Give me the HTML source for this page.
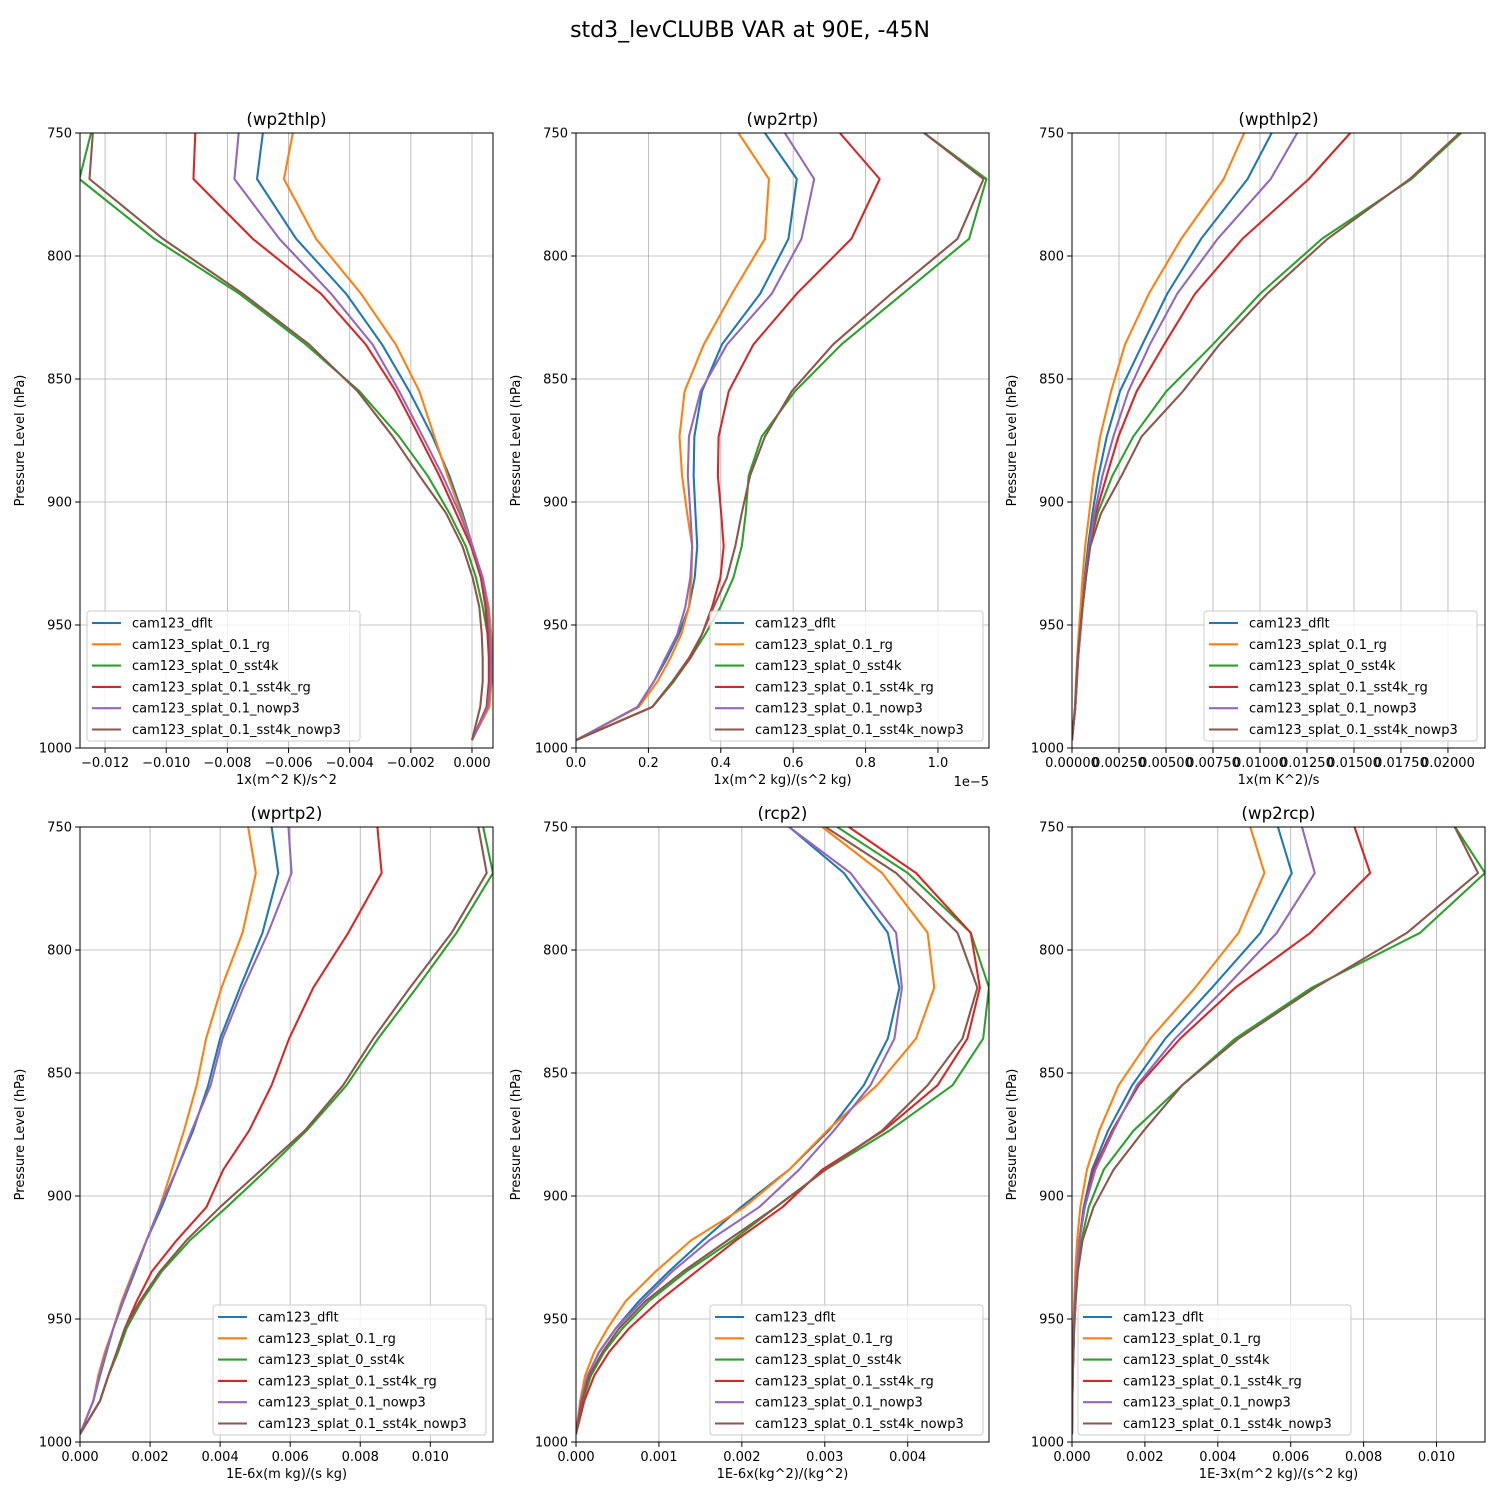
<!DOCTYPE html>
<html><head><meta charset="utf-8"><style>
html,body{margin:0;padding:0;background:#fff;}
svg text{font-family:"DejaVu Sans","Liberation Sans",sans-serif;}
</style></head><body>
<svg id="fig" width="1500" height="1500" viewBox="0 0 1500 1500" xmlns="http://www.w3.org/2000/svg">
<rect width="1500" height="1500" fill="#fff"/>
<text x="750" y="37" font-size="22" text-anchor="middle">std3_levCLUBB VAR at 90E, -45N</text>
</svg>
<script>
const levels = [750, 768.7, 793, 815.3, 836, 855, 873.4, 889.3, 904.5, 918, 930.7, 942.7, 953.8, 963.4, 973, 983.3, 996.8];
const seriesNames = ["cam123_dflt","cam123_splat_0.1_rg","cam123_splat_0_sst4k","cam123_splat_0.1_sst4k_rg","cam123_splat_0.1_nowp3","cam123_splat_0.1_sst4k_nowp3"];
const yTicks = [750, 800, 850, 900, 950, 1000];

const wp2thlp_dflt = [-0.00684,-0.00703,-0.00575,-0.00412,-0.00294,-0.00205,-0.00129,-0.00074,-0.00031,0.00002,0.00029,0.00048,0.00057,0.00060,0.00059,0.00051,0];
const wp2thlp_rg = [-0.00586,-0.00615,-0.00510,-0.00363,-0.00249,-0.00172,-0.00123,-0.00080,-0.00036,0.00002,0.00035,0.00055,0.00063,0.00065,0.00064,0.00057,0];
const wp2thlp_sst4k = [-0.01246,-0.01284,-0.01039,-0.00761,-0.00543,-0.00368,-0.00238,-0.00145,-0.00074,-0.00020,0.00013,0.00035,0.00051,0.00057,0.00057,0.00048,0];
const wp2thlp_sst4k_rg = [-0.00905,-0.00911,-0.00717,-0.00494,-0.00347,-0.00249,-0.00172,-0.00107,-0.00052,-0.00003,0.00029,0.00044,0.00051,0.00055,0.00055,0.00048,0];
const wp2thlp_nowp3 = [-0.00763,-0.00777,-0.00630,-0.00461,-0.00325,-0.00238,-0.00161,-0.00096,-0.00041,0.00002,0.00035,0.00051,0.00059,0.00062,0.00061,0.00051,0];
const wp2thlp_sst4k_nowp3 = [-0.01240,-0.01251,-0.01011,-0.00750,-0.00532,-0.00374,-0.00259,-0.00172,-0.00085,-0.00031,0.00002,0.00024,0.00032,0.00035,0.00035,0.00027,0];
const wp2thlp_ticks = [-0.012,-0.010,-0.008,-0.006,-0.004,-0.002,0.000];

const wp2rtp_dflt = [.522e-5,.610e-5,.587e-5,.509e-5,.403e-5,.348e-5,.327e-5,.325e-5,.330e-5,.335e-5,.328e-5,.312e-5,.284e-5,.252e-5,.215e-5,.170e-5,0];
const wp2rtp_rg = [.449e-5,.533e-5,.522e-5,.431e-5,.353e-5,.300e-5,.286e-5,.293e-5,.307e-5,.321e-5,.319e-5,.312e-5,.291e-5,.261e-5,.225e-5,.174e-5,0];
const wp2rtp_sst4k = [.962e-5,1.134e-5,1.086e-5,.903e-5,.733e-5,.605e-5,.513e-5,.477e-5,.469e-5,.458e-5,.435e-5,.399e-5,.357e-5,.316e-5,.270e-5,.211e-5,0];
const wp2rtp_sst4k_rg = [.729e-5,.839e-5,.761e-5,.610e-5,.490e-5,.422e-5,.394e-5,.392e-5,.401e-5,.408e-5,.399e-5,.376e-5,.348e-5,.316e-5,.266e-5,.211e-5,0];
const wp2rtp_nowp3 = [.577e-5,.658e-5,.623e-5,.541e-5,.417e-5,.344e-5,.312e-5,.309e-5,.316e-5,.321e-5,.316e-5,.302e-5,.280e-5,.247e-5,.215e-5,.170e-5,0];
const wp2rtp_sst4k_nowp3 = [.962e-5,1.126e-5,1.054e-5,.871e-5,.710e-5,.596e-5,.522e-5,.481e-5,.458e-5,.440e-5,.417e-5,.380e-5,.348e-5,.312e-5,.266e-5,.211e-5,0];
const wp2rtp_ticks = [0,0.2e-5,0.4e-5,0.6e-5,0.8e-5,1.0e-5];

const wpthlp2_dflt = [.01062,.00934,.00687,.00507,.00374,.00255,.00185,.00141,.00109,.00085,.00067,.00053,.00042,.00032,.00025,.00018,0];
const wpthlp2_rg = [.00916,.00807,.00581,.00409,.00282,.00208,.00150,.00115,.00092,.00070,.00056,.00046,.00035,.00028,.00021,.00016,0];
const wpthlp2_sst4k = [.02070,.01806,.01330,.01001,.00749,.00502,.00326,.00215,.00137,.00092,.00074,.00056,.00042,.00032,.00025,.00018,0];
const wpthlp2_sst4k_rg = [.01480,.01260,.00907,.00655,.00490,.00344,.00247,.00185,.00127,.00097,.00074,.00056,.00044,.00033,.00026,.00018,0];
const wpthlp2_nowp3 = [.01198,.01057,.00775,.00560,.00414,.00300,.00220,.00162,.00120,.00092,.00070,.00056,.00044,.00033,.00026,.00018,0];
const wpthlp2_sst4k_nowp3 = [.02061,.01797,.01360,.01039,.00784,.00590,.00370,.00264,.00155,.00097,.00074,.00056,.00041,.00030,.00023,.00016,0];
const wpthlp2_ticks = [0,0.0025,0.005,0.0075,0.01,0.0125,0.015,0.0175,0.02];

const wprtp2_dflt = [.00547,.00566,.00521,.00457,.00400,.00366,.00323,.00276,.00233,.00190,.00157,.00124,.00095,.00076,.00057,.00038,0];
const wprtp2_rg = [.00480,.00502,.00464,.00404,.00360,.00333,.00297,.00262,.00228,.00190,.00152,.00119,.00095,.00071,.00052,.00038,0];
const wprtp2_sst4k = [.01151,.01179,.01075,.00961,.00851,.00761,.00647,.00533,.00419,.00314,.00233,.00176,.00133,.00109,.00081,.00057,0];
const wprtp2_sst4k_rg = [.00849,.00861,.00766,.00666,.00597,.00547,.00483,.00409,.00361,.00276,.00205,.00162,.00128,.00105,.00081,.00057,0];
const wprtp2_nowp3 = [.00595,.00604,.00537,.00466,.00407,.00373,.00319,.00276,.00228,.00190,.00154,.00122,.00095,.00074,.00055,.00038,0];
const wprtp2_sst4k_nowp3 = [.01137,.01161,.01061,.00942,.00837,.00751,.00642,.00518,.00400,.00304,.00228,.00171,.00128,.00105,.00081,.00057,0];
const wprtp2_ticks = [0,0.002,0.004,0.006,0.008,0.010];

const rcp2_dflt = [.00257,.00323,.00376,.00390,.00376,.00347,.00305,.00257,.00199,.00153,.00112,.00076,.00048,.00028,.00014,.00006,0];
const rcp2_rg = [.00297,.00369,.00424,.00432,.00410,.00363,.00303,.00257,.00203,.00139,.00096,.00060,.00038,.00022,.00011,.00005,0];
const rcp2_sst4k = [.00315,.00400,.00476,.00498,.00491,.00454,.00378,.00301,.00241,.00189,.00133,.00088,.00056,.00034,.00018,.00008,0];
const rcp2_sst4k_rg = [.00329,.00410,.00476,.00487,.00472,.00436,.00371,.00297,.00249,.00193,.00145,.00100,.00064,.00040,.00022,.00010,0];
const rcp2_nowp3 = [.00257,.00331,.00386,.00393,.00384,.00355,.00311,.00269,.00221,.00161,.00116,.00080,.00048,.00028,.00014,.00006,0];
const rcp2_sst4k_nowp3 = [.00301,.00386,.00460,.00484,.00466,.00424,.00369,.00301,.00241,.00183,.00129,.00084,.00052,.00032,.00016,.00007,0];
const rcp2_ticks = [0,0.001,0.002,0.003,0.004];

const wp2rcp_dflt = [.00565,.00603,.00517,.00384,.00256,.00165,.00099,.00055,.00032,.00020,.00013,.00008,.00005,.00004,.00002,.00001,0];
const wp2rcp_rg = [.00489,.00528,.00457,.00338,.00215,.00128,.00075,.00041,.00023,.00014,.00009,.00006,.00004,.00003,.00002,.00001,0];
const wp2rcp_sst4k = [.01051,.01133,.00955,.00658,.00448,.00302,.00169,.00087,.00046,.00026,.00015,.00010,.00006,.00004,.00002,.00001,0];
const wp2rcp_sst4k_rg = [.00775,.00818,.00654,.00448,.00297,.00183,.00110,.00059,.00035,.00020,.00013,.00008,.00005,.00004,.00002,.00001,0];
const wp2rcp_nowp3 = [.00631,.00666,.00562,.00421,.00283,.00178,.00114,.00064,.00035,.00020,.00013,.00008,.00005,.00004,.00002,.00001,0];
const wp2rcp_sst4k_nowp3 = [.01050,.01114,.00919,.00667,.00457,.00302,.00197,.00114,.00059,.00029,.00016,.00010,.00006,.00004,.00002,.00001,0];
const wp2rcp_ticks = [0,0.002,0.004,0.006,0.008,0.010];

const colors = ["#1f77b4","#ff7f0e","#2ca02c","#d62728","#9467bd","#8c564b"];
const NS = "http://www.w3.org/2000/svg";
const svg = document.getElementById("fig");
function mk(tag, attrs, parent){ const e=document.createElementNS(NS,tag); for(const k in attrs) e.setAttribute(k,attrs[k]); (parent||svg).appendChild(e); return e; }

const panels = [
 {key:"wp2thlp", title:"(wp2thlp)", xlabel:"1x(m^2 K)/s^2", x0:80, y0:133, xmin:-0.01282, xmax:0.000687, ticks:wp2thlp_ticks, dec:3, series:[wp2thlp_dflt,wp2thlp_rg,wp2thlp_sst4k,wp2thlp_sst4k_rg,wp2thlp_nowp3,wp2thlp_sst4k_nowp3], legX:87},
 {key:"wp2rtp", title:"(wp2rtp)", xlabel:"1x(m^2 kg)/(s^2 kg)", x0:576, y0:133, xmin:0, xmax:1.141e-5, ticks:wp2rtp_ticks, dec:1, scale:1e5, offset:"1e\u22125", series:[wp2rtp_dflt,wp2rtp_rg,wp2rtp_sst4k,wp2rtp_sst4k_rg,wp2rtp_nowp3,wp2rtp_sst4k_nowp3], legX:710},
 {key:"wpthlp2", title:"(wpthlp2)", xlabel:"1x(m K^2)/s", x0:1072, y0:133, xmin:0, xmax:0.02197, ticks:wpthlp2_ticks, dec:5, series:[wpthlp2_dflt,wpthlp2_rg,wpthlp2_sst4k,wpthlp2_sst4k_rg,wpthlp2_nowp3,wpthlp2_sst4k_nowp3], legX:1204},
 {key:"wprtp2", title:"(wprtp2)", xlabel:"1E-6x(m kg)/(s kg)", x0:80, y0:827, xmin:0, xmax:0.01179, ticks:wprtp2_ticks, dec:3, series:[wprtp2_dflt,wprtp2_rg,wprtp2_sst4k,wprtp2_sst4k_rg,wprtp2_nowp3,wprtp2_sst4k_nowp3], legX:213},
 {key:"rcp2", title:"(rcp2)", xlabel:"1E-6x(kg^2)/(kg^2)", x0:576, y0:827, xmin:0, xmax:0.00498, ticks:rcp2_ticks, dec:3, series:[rcp2_dflt,rcp2_rg,rcp2_sst4k,rcp2_sst4k_rg,rcp2_nowp3,rcp2_sst4k_nowp3], legX:710},
 {key:"wp2rcp", title:"(wp2rcp)", xlabel:"1E-3x(m^2 kg)/(s^2 kg)", x0:1072, y0:827, xmin:0, xmax:0.01133, ticks:wp2rcp_ticks, dec:3, series:[wp2rcp_dflt,wp2rcp_rg,wp2rcp_sst4k,wp2rcp_sst4k_rg,wp2rcp_nowp3,wp2rcp_sst4k_nowp3], legX:1078}
];
const W=413, H=615;

panels.forEach((p,pi)=>{
  const xs = v => p.x0 + (v-p.xmin)/(p.xmax-p.xmin)*W;
  const ys = v => p.y0 + (v-750)/250*H;
  const g = mk("g",{});
  
  
  const cid="clip"+pi;
  const cp=mk("clipPath",{id:cid},g); mk("rect",{x:p.x0,y:p.y0,width:W,height:H},cp);
  p.ticks.forEach(t=>{ const x=xs(t); const l=mk("line",{x1:x,x2:x,y1:p.y0,y2:p.y0+H,stroke:"#b0b0b0","stroke-width":0.8},g);
      });
  yTicks.forEach(t=>{ const y=ys(t); const l=mk("line",{x1:p.x0,x2:p.x0+W,y1:y,y2:y,stroke:"#b0b0b0","stroke-width":0.8},g);
      });
  p.series.forEach((arr,si)=>{
    const pts = arr.map((v,i)=>xs(v).toFixed(2)+","+ys(levels[i]).toFixed(2)).join(" ");
    const pl = mk("polyline",{points:pts,fill:"none",stroke:colors[si],"stroke-width":2.08,"stroke-linejoin":"round","clip-path":"url(#"+cid+")"},g);
    
    
  });
  const fr=mk("rect",{x:p.x0,y:p.y0,width:W,height:H,fill:"none",stroke:"#000","stroke-width":1},g);
   
  p.ticks.forEach(t=>{ const x=xs(t);
    mk("line",{x1:x,x2:x,y1:p.y0+H,y2:p.y0+H+4.9,stroke:"#000","stroke-width":1},g);
    let s = p.scale ? (t*p.scale).toFixed(p.dec) : t.toFixed(p.dec);
    s = s.replace("-","\u2212");
    const tx=mk("text",{x:x,y:p.y0+H+19,"font-size":13,"text-anchor":"middle"},g); tx.textContent=s;
     
  });
  if(p.offset){ const o=mk("text",{x:p.x0+W,y:p.y0+H+38,"font-size":13,"text-anchor":"end"},g); o.textContent=p.offset;
      }
  yTicks.forEach(t=>{ const y=ys(t);
    mk("line",{x1:p.x0-4.9,x2:p.x0,y1:y,y2:y,stroke:"#000","stroke-width":1},g);
    const tx=mk("text",{x:p.x0-8,y:y+4.5,"font-size":13,"text-anchor":"end"},g); tx.textContent=String(t);
     
  });
  const yl=mk("text",{x:0,y:0,"font-size":13,"text-anchor":"middle",transform:"translate("+(p.x0-56)+","+(p.y0+H/2)+") rotate(-90)"},g);
  yl.textContent="Pressure Level (hPa)";
   
  const xl=mk("text",{x:p.x0+W/2,y:p.y0+H+36,"font-size":13,"text-anchor":"middle"},g);
  xl.textContent=p.xlabel;
   
  const ti=mk("text",{x:p.x0+W/2,y:p.y0-8,"font-size":16.7,"text-anchor":"middle"},g);
  ti.textContent=p.title;
   
  const lx=p.legX, lyB=p.y0+H-7, lh=130, lw=273, ly=lyB-lh;
  const lg=mk("g",{},g);
   
  mk("rect",{x:lx,y:ly,width:lw,height:lh,rx:3,fill:"#fff","fill-opacity":0.8,stroke:"#cccccc","stroke-width":1},lg);
  seriesNames.forEach((n,si)=>{
    const yy=ly+12+si*21.3;
    mk("line",{x1:lx+5,x2:lx+34,y1:yy,y2:yy,stroke:colors[si],"stroke-width":2.08},lg);
    const t=mk("text",{x:lx+45,y:yy+4.5,"font-size":13},lg); t.textContent=n;
     
  });
});
</script>
</body></html>
